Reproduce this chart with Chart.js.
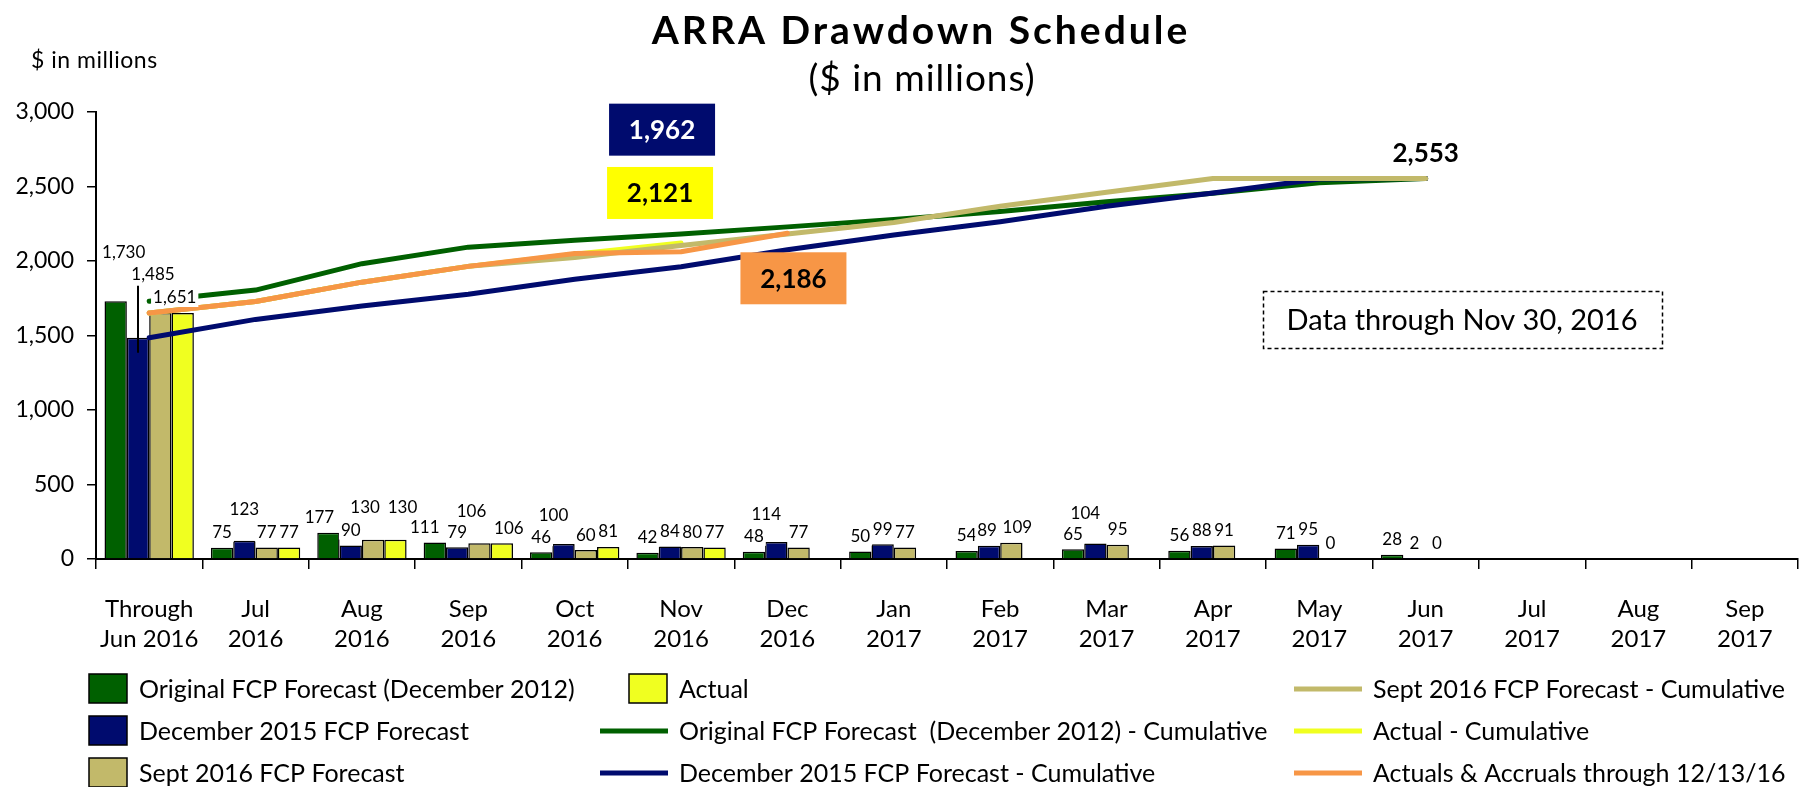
<!DOCTYPE html>
<html>
<head>
<meta charset="utf-8">
<title>ARRA Drawdown Schedule</title>
<script src="https://cdn.jsdelivr.net/npm/chart.js@4.4.0/dist/chart.umd.min.js"></script>
<style>
  html, body { margin: 0; padding: 0; background: #fff; }
  #wrap { width: 1805px; height: 787px; }
</style>
</head>
<body>
<div id="wrap"><canvas id="drawdownChart" width="1805" height="787"></canvas></div>
<script>
// x axis months (two-line labels)
const months = [
  ['Through', 'Jun 2016'], ['Jul', '2016'], ['Aug', '2016'], ['Sep', '2016'],
  ['Oct', '2016'], ['Nov', '2016'], ['Dec', '2016'], ['Jan', '2017'],
  ['Feb', '2017'], ['Mar', '2017'], ['Apr', '2017'], ['May', '2017'],
  ['Jun', '2017'], ['Jul', '2017'], ['Aug', '2017'], ['Sep', '2017']
];

// monthly drawdowns, $ in millions
const originalForecast = [1730, 75, 177, 111, 46, 42, 48, 50, 54, 65, 56, 71, 28, null, null, null];
const dec2015Forecast  = [1485, 123, 90, 79, 100, 84, 114, 99, 89, 104, 88, 95, 2, null, null, null];
const sept2016Forecast = [1651, 77, 130, 106, 60, 80, 77, 77, 109, 95, 91, 0, 0, null, null, null];
const actualMonthly    = [1651, 77, 130, 106, 81, 77, null, null, null, null, null, null, null, null, null, null];

// cumulative totals, $ in millions
const originalCumulative = [1730, 1805, 1982, 2093, 2139, 2181, 2229, 2279, 2333, 2398, 2454, 2525, 2553, null, null, null];
const dec2015Cumulative  = [1485, 1608, 1698, 1777, 1877, 1962, 2076, 2175, 2264, 2368, 2456, 2551, 2553, null, null, null];
const sept2016Cumulative = [1651, 1728, 1858, 1964, 2024, 2104, 2181, 2258, 2367, 2462, 2553, 2553, 2553, null, null, null];
const actualCumulative   = [1651, 1728, 1858, 1964, 2045, 2121, null, null, null, null, null, null, null, null, null, null];
const accrualsCumulative = [1651, 1728, 1858, 1964, 2050, 2062, 2186, null, null, null, null, null, null, null, null, null];

const yMin = 0, yMax = 3000, yStep = 500;

const GREEN = '#006000';
const NAVY = '#000B6E';
const KHAKI = '#C2B96A';
const YELLOW = '#F0FF20';
const ORANGE = '#F79646';
const FONT = 'Lato, "Gill Sans", sans-serif';

function barSet(label, data, color) {
  return {
    type: 'bar', label, data,
    backgroundColor: color, borderColor: '#000', borderWidth: 1.5,
    barPercentage: 1, categoryPercentage: 0.84, order: 10
  };
}

function lineSet(label, data, color, order) {
  return {
    type: 'line', label, data,
    borderColor: color, backgroundColor: color, borderWidth: 5,
    pointRadius: 0, tension: 0, borderCapStyle: 'round', borderJoinStyle: 'round',
    spanGaps: false, order
  };
}

// titles, axis caption and the date note
const textPlugin = {
  id: 'chartText',
  afterDraw(chart) {
    const ctx = chart.ctx;
    ctx.save();
    ctx.fillStyle = '#000';
    ctx.textAlign = 'center';
    ctx.textBaseline = 'alphabetic';
    ctx.font = `bold 39px ${FONT}`;
    ctx.letterSpacing = '3px';
    ctx.fillText('ARRA Drawdown Schedule', 921, 44);
    ctx.font = `37px ${FONT}`;
    ctx.letterSpacing = '1px';
    ctx.fillText('($ in millions)', 922, 91);

    ctx.textAlign = 'left';
    ctx.font = `23px ${FONT}`;
    ctx.letterSpacing = '0.5px';
    ctx.fillText('$ in millions', 31, 68);
    ctx.letterSpacing = '0px';

    ctx.setLineDash([4, 3]);
    ctx.lineWidth = 1.5;
    ctx.strokeStyle = '#000';
    ctx.strokeRect(1263.5, 291.5, 399, 57);
    ctx.setLineDash([]);
    ctx.textAlign = 'center';
    ctx.font = `29px ${FONT}`;
    ctx.fillText('Data through Nov 30, 2016', 1462, 330);
    ctx.restore();
  }
};

// values above the monthly bars
const barLabelPlugin = {
  id: 'barLabels',
  afterDatasetsDraw(chart, args, opts) {
    const ctx = chart.ctx;
    ctx.save();
    ctx.font = `17px ${FONT}`;
    ctx.textAlign = 'center';
    ctx.textBaseline = 'middle';
    chart.data.datasets.forEach((ds, di) => {
      if (ds.type !== 'bar') return;
      const meta = chart.getDatasetMeta(di);
      meta.data.forEach((bar, i) => {
        const v = ds.data[i];
        if (v === null || v === undefined) return;
        const key = di + ':' + i;
        if (opts.hidden.includes(key)) return;
        const shift = opts.shift[key] || [0, 0];
        const x = bar.x + shift[0];
        const y = bar.y - opts.gap + shift[1];
        const text = v.toLocaleString('en-US');
        const w = ctx.measureText(text).width;
        ctx.fillStyle = '#fff';
        ctx.fillRect(x - w / 2 - 2, y - 9, w + 4, 18);
        ctx.fillStyle = '#000';
        ctx.fillText(text, x, y);
        if (opts.leaders.includes(key)) {
          ctx.strokeStyle = '#000';
          ctx.lineWidth = 2;
          ctx.beginPath();
          ctx.moveTo(bar.x, y + 11);
          ctx.lineTo(bar.x, bar.y + 15);
          ctx.stroke();
        }
      });
    });
    ctx.restore();
  }
};

// boxed values on the cumulative lines
const calloutPlugin = {
  id: 'callouts',
  afterDatasetsDraw(chart, args, opts) {
    const ctx = chart.ctx;
    ctx.save();
    ctx.font = `bold 26px ${FONT}`;
    ctx.textAlign = 'center';
    ctx.textBaseline = 'middle';
    opts.items.forEach(c => {
      const pt = chart.getDatasetMeta(c.dataset).data[c.index];
      const v = chart.data.datasets[c.dataset].data[c.index];
      const x = pt.x + c.dx, y = pt.y + c.dy;
      if (c.fill) {
        ctx.fillStyle = c.fill;
        ctx.fillRect(x - 53, y - 26, 106, 52);
      }
      ctx.fillStyle = c.color;
      ctx.fillText(v.toLocaleString('en-US'), x, y + 1);
    });
    ctx.restore();
  }
};

// three-column legend under the axis
const legendPlugin = {
  id: 'gridLegend',
  afterDraw(chart, args, opts) {
    const ctx = chart.ctx;
    ctx.save();
    ctx.font = `25px ${FONT}`;
    ctx.textAlign = 'left';
    ctx.textBaseline = 'alphabetic';
    opts.columns.forEach(col => {
      col.items.forEach((di, row) => {
        const ds = chart.data.datasets[di];
        const y = opts.rows[row];
        if (ds.type === 'bar') {
          ctx.fillStyle = ds.backgroundColor;
          ctx.fillRect(col.textX - 50, y - 15, 38, 29);
          ctx.strokeStyle = '#000';
          ctx.lineWidth = 1.5;
          ctx.strokeRect(col.textX - 50, y - 15, 38, 29);
        } else {
          ctx.strokeStyle = ds.borderColor;
          ctx.lineWidth = 5;
          ctx.beginPath();
          ctx.moveTo(col.textX - 79, y);
          ctx.lineTo(col.textX - 11, y);
          ctx.stroke();
        }
        ctx.fillStyle = '#000';
        ctx.fillText(ds.label, col.textX, y + 9);
      });
    });
    ctx.restore();
  }
};

const config = {
  data: {
    labels: months,
    datasets: [
      barSet('Original FCP Forecast (December 2012)', originalForecast, GREEN),
      barSet('December 2015 FCP Forecast', dec2015Forecast, NAVY),
      barSet('Sept 2016 FCP Forecast', sept2016Forecast, KHAKI),
      barSet('Actual', actualMonthly, YELLOW),
      lineSet('Original FCP Forecast  (December 2012) - Cumulative', originalCumulative, GREEN, 5),
      lineSet('December 2015 FCP Forecast - Cumulative', dec2015Cumulative, NAVY, 4),
      lineSet('Sept 2016 FCP Forecast - Cumulative', sept2016Cumulative, KHAKI, 2),
      lineSet('Actual - Cumulative', actualCumulative, YELLOW, 3),
      lineSet('Actuals & Accruals through 12/13/16', accrualsCumulative, ORANGE, 1)
    ]
  },
  options: {
    responsive: false,
    animation: false,
    events: [],
    layout: { padding: { left: 0, right: 7, top: 112, bottom: 0 } },
    plugins: {
      legend: { display: false },
      tooltip: { enabled: false },
      title: { display: false },
      barLabels: {
        gap: 15,
        hidden: ['2:0'],
        leaders: ['1:0'],
        shift: {
          '0:0': [8, -34], '1:0': [15, -48], '3:0': [-8, 0],
          '1:1': [0, -16],
          '0:2': [-9, 0], '2:2': [-8, -17], '3:2': [7, -17],
          '0:3': [-10, 0], '2:3': [-8, -17], '3:3': [7, 0],
          '1:4': [-10, -14],
          '1:6': [-10, -12],
          '1:8': [-2, 0], '2:8': [6, 0],
          '1:9': [-10, -15]
        }
      },
      callouts: {
        items: [
          { dataset: 5, index: 5, dx: -19, dy: -137, fill: NAVY, color: '#fff' },
          { dataset: 7, index: 5, dx: -21, dy: -50, fill: '#FFFF00', color: '#000' },
          { dataset: 8, index: 6, dx: 6, dy: 45, fill: ORANGE, color: '#000' },
          { dataset: 4, index: 12, dx: 0, dy: -26, fill: null, color: '#000' }
        ]
      },
      gridLegend: {
        rows: [689, 731, 773],
        columns: [
          { textX: 139, items: [0, 1, 2] },
          { textX: 679, items: [3, 4, 5] },
          { textX: 1373, items: [6, 7, 8] }
        ]
      }
    },
    scales: {
      x: {
        offset: true,
        grid: { offset: true, drawOnChartArea: false, drawTicks: true, tickLength: 10, color: '#000', lineWidth: 1.5 },
        border: { display: true, color: '#000', width: 2 },
        ticks: {
          color: '#000', autoSkip: false, maxRotation: 0, padding: 25,
          font: { family: FONT, size: 24, lineHeight: 1.25 }
        },
        afterFit(scale) { scale.height = 228; }
      },
      y: {
        min: yMin, max: yMax,
        grid: { drawOnChartArea: false, drawTicks: true, tickLength: 9, color: '#000', lineWidth: 1.5 },
        border: { display: true, color: '#000', width: 2 },
        ticks: {
          stepSize: yStep, color: '#000', padding: 13,
          font: { family: FONT, size: 23 },
          callback: v => v.toLocaleString('en-US')
        },
        afterFit(scale) { scale.width = 96; }
      }
    }
  },
  plugins: [barLabelPlugin, calloutPlugin, textPlugin, legendPlugin]
};

window.addEventListener('load', () => {
  const ctx = document.getElementById('drawdownChart').getContext('2d');
  new Chart(ctx, config);
});
</script>
</body>
</html>
